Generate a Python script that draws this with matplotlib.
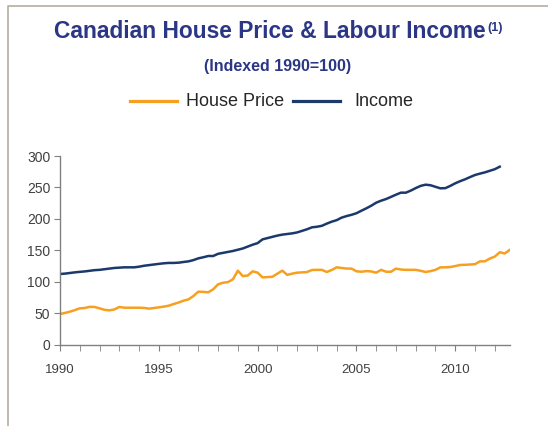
import numpy as np
import matplotlib
matplotlib.use("Agg")
import matplotlib.pyplot as plt
from matplotlib.lines import Line2D

plt.rcParams['font.family'] = ['Liberation Sans', 'DejaVu Sans']

# quarterly index values (1990 = start)
house_price = [
    48.8, 50.5, 52.5, 55.0,   # 1990
    57.8, 58.3, 60.2, 60.0,   # 1991
    57.8, 55.5, 54.6, 56.0,   # 1992
    60.0, 58.8, 58.8, 58.8,   # 1993
    58.8, 58.5, 57.3, 58.3,   # 1994
    59.4, 60.5, 62.0, 64.7,   # 1995
    67.0, 70.0, 72.0, 77.4,   # 1996
    84.3, 84.0, 83.3, 88.0,   # 1997
    96.0, 98.5, 99.5, 104.0,  # 1998
    117.7, 109.0, 110.0, 116.7,  # 1999
    114.5, 107.0, 107.5, 108.0,  # 2000
    113.0, 117.7, 111.0, 113.0,  # 2001
    114.5, 115.0, 115.5, 118.8,  # 2002
    119.0, 119.0, 115.6, 118.8,  # 2003
    123.0, 122.0, 121.0, 121.0,  # 2004
    116.7, 116.0, 117.0, 116.5,  # 2005
    114.5, 119.0, 116.0, 116.0,  # 2006
    121.0, 119.5, 119.0, 119.0,  # 2007
    119.0, 117.5, 115.6, 117.0,  # 2008
    119.0, 123.0, 123.0, 123.5,  # 2009
    125.0, 126.8, 127.0, 127.5,  # 2010
    128.0, 132.5, 132.5, 137.0,  # 2011
    140.0, 147.0, 145.0, 150.5,  # 2012
]

income = [
    112.4, 113.0, 114.0, 115.0,  # 1990
    115.8, 116.5, 117.5, 118.5,  # 1991
    119.0, 120.0, 121.0, 122.0,  # 1992
    122.5, 123.0, 123.0, 123.0,  # 1993
    124.0, 125.5, 126.5, 127.5,  # 1994
    128.5, 129.4, 130.0, 130.0,  # 1995
    130.4, 131.5, 132.5, 134.5,  # 1996
    137.3, 139.0, 141.0, 141.0,  # 1997
    144.5, 146.0, 147.5, 149.0,  # 1998
    151.0, 153.0, 156.0, 159.0,  # 1999
    161.5, 167.5, 169.5, 171.5,  # 2000
    173.5, 175.0, 176.0, 177.0,  # 2001
    178.5, 181.0, 183.5, 186.6,  # 2002
    187.5, 189.0, 192.5, 195.6,  # 2003
    198.0, 202.0, 204.5, 206.5,  # 2004
    209.0, 213.0, 216.8, 221.0,  # 2005
    225.8, 229.0, 231.6, 235.0,  # 2006
    238.5, 241.7, 241.7, 245.0,  # 2007
    249.0, 252.5, 254.4, 253.5,  # 2008
    251.0, 248.6, 248.9, 252.5,  # 2009
    256.6, 260.0, 263.0, 266.5,  # 2010
    269.8, 272.0, 274.0, 276.5,  # 2011
    279.0, 283.0,                # 2012
]

start_year = 1990
year_ticks = [1990, 1995, 2000, 2005, 2010]

orange = '#f7a020'
navy = '#1b3a6b'
title_col = '#2b3785'

hp_x = start_year + np.arange(len(house_price)) / 4
inc_x = start_year + np.arange(len(income)) / 4

fig = plt.figure(figsize=(5.48, 4.26), dpi=100)
ax = fig.add_axes([60 / 548, 1 - 344.7 / 426, 450 / 548, 188.7 / 426])

ax.plot(hp_x, house_price, color=orange, lw=1.8, solid_joinstyle='round')
ax.plot(inc_x, income, color=navy, lw=1.8, solid_joinstyle='round')

ax.set_xlim(1990, 2012.77)
ax.set_ylim(0, 300)
ax.set_yticks(range(0, 301, 50))
ax.set_xticks(year_ticks)
ax.set_xticks(range(1991, 2013), minor=True)

for s in ['top', 'right']:
    ax.spines[s].set_visible(False)
for s in ['left', 'bottom']:
    ax.spines[s].set_color('#808080')
    ax.spines[s].set_linewidth(1.0)

ax.tick_params(axis='y', length=4, color='#808080', labelsize=10,
               labelcolor='#404040', pad=3)
ax.tick_params(axis='x', which='both', length=4, color='#808080',
               labelsize=9.5, labelcolor='#404040', pad=10)

# title block
fig.text(54 / 548, 1 - 31 / 426,
         'Canadian House Price & Labour Income',
         ha='left', va='center', fontsize=16.4, fontweight='bold', color=title_col)
fig.text(487 / 548, 1 - 28 / 426, '(1)', ha='left', va='center',
         fontsize=9, fontweight='bold', color=title_col)
fig.text(278 / 548, 1 - 66 / 426, '(Indexed 1990=100)', ha='center', va='center',
         fontsize=11.5, fontweight='bold', color=title_col)

# legend drawn on the figure
fig.add_artist(Line2D([130 / 548, 177 / 548], [1 - 101 / 426] * 2,
                      color=orange, lw=2.3))
fig.text(186 / 548, 1 - 101 / 426, 'House Price', ha='left', va='center',
         fontsize=13, color='#262626')
fig.add_artist(Line2D([293 / 548, 340 / 548], [1 - 101 / 426] * 2,
                      color=navy, lw=2.3))
fig.text(354 / 548, 1 - 101 / 426, 'Income', ha='left', va='center',
         fontsize=13, color='#262626')

# frame of the original slide panel
fig.add_artist(Line2D([7.5 / 548, 7.5 / 548, 1.0], [0, 1 - 5.5 / 426, 1 - 5.5 / 426],
                      color='#b5aea0', lw=1.2))

fig.savefig('out.png', dpi=100)
